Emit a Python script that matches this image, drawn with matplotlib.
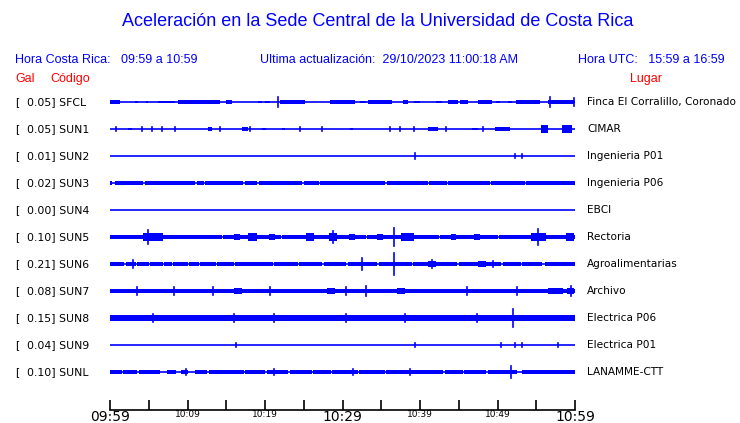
import matplotlib
matplotlib.use("Agg")
import matplotlib.pyplot as plt
from matplotlib.transforms import blended_transform_factory

W, H = 740, 423

# stations, top to bottom
codes = ["SFCL", "SUN1", "SUN2", "SUN3", "SUN4", "SUN5", "SUN6", "SUN7", "SUN8", "SUN9", "SUNL"]
gal = ["0.05", "0.05", "0.01", "0.02", "0.00", "0.10", "0.21", "0.08", "0.15", "0.04", "0.10"]
places = ["Finca El Corralillo, Coronado", "CIMAR", "Ingenieria P01", "Ingenieria P06", "EBCI",
          "Rectoria", "Agroalimentarias", "Archivo", "Electrica P06", "Electrica P01", "LANAMME-CTT"]

# half width of the continuous noise band (fraction of row spacing), 0 = plain line
base = [0, 0, 0, 0.065, 0, 0.09, 0.06, 0.085, 0.10, 0, 0.06]

# quiet stretches where the band drops to the plain line: (start min, end min)
gaps = [
    [], [], [],
    [(0.3, 0.7), (4.3, 4.5), (11.0, 11.2), (12.1, 12.2), (17.2, 17.4), (19.0, 19.2), (24.8, 25.0),
     (27.0, 27.1), (35.5, 35.7), (38.0, 38.1), (41.0, 41.2), (43.5, 43.6), (49.0, 49.1), (53.5, 53.7)],
    [],
    [(2.0, 2.1), (9.5, 9.6), (14.5, 14.6), (22.0, 22.15), (33.0, 33.1), (42.5, 42.6), (50.0, 50.15)],
    [(1.8, 2.1), (3.3, 3.45), (5.0, 5.2), (6.8, 6.95), (8.0, 8.1), (10.0, 10.15), (11.5, 11.65),
     (13.7, 13.85), (16.0, 16.15), (21.0, 21.2), (24.2, 24.35), (27.4, 27.55), (30.5, 30.65), (34.5, 34.65),
     (39.0, 39.15), (42.0, 42.1), (44.8, 45.0), (47.7, 47.85), (50.5, 50.65), (53.0, 53.15), (55.8, 56.1)],
    [], [], [],
    [(1.5, 1.7), (3.5, 3.7), (5.5, 5.6), (6.5, 7.4), (8.5, 9.2), (10.0, 11.0), (12.5, 12.8),
     (14.8, 14.9), (17.3, 17.4), (20.0, 20.2), (23.0, 23.2), (26.0, 26.2), (28.5, 28.7), (32.0, 32.1),
     (35.5, 35.6), (38.0, 38.1), (43.0, 43.2), (45.5, 45.7), (48.5, 48.8), (52.5, 53.2)],
]

# bursts: (start min, end min, half amplitude)
bursts = [
    [(0, 1.3, 0.08), (3.2, 3.6, 0.05), (4.6, 4.9, 0.05), (6.2, 8.4, 0.05), (8.8, 14.2, 0.07),
     (15.0, 15.7, 0.06), (19.1, 19.6, 0.05), (20.0, 20.6, 0.05), (21.9, 25.2, 0.07), (28.4, 31.6, 0.07),
     (32.3, 33.0, 0.05), (33.3, 36.4, 0.06), (37.8, 38.5, 0.06), (39.2, 40.0, 0.05), (42.0, 42.8, 0.05),
     (43.6, 44.9, 0.07), (45.2, 46.2, 0.06), (47.5, 49.3, 0.06), (49.8, 50.3, 0.05), (51.4, 51.9, 0.05),
     (52.4, 55.5, 0.06), (56.5, 59.9, 0.07)],
    [(2.3, 2.8, 0.05), (12.6, 13.2, 0.06), (17.0, 17.8, 0.06), (19.6, 20.1, 0.05), (22.2, 22.6, 0.05),
     (31.0, 31.4, 0.05), (41.0, 42.3, 0.06), (46.7, 47.5, 0.05), (49.7, 51.6, 0.06),
     (55.6, 56.5, 0.14), (58.3, 59.6, 0.15)],
    [],
    [],
    [],
    [(4.3, 6.8, 0.16), (16.0, 16.8, 0.12), (17.8, 19.0, 0.13), (20.5, 21.3, 0.12), (25.3, 26.3, 0.13),
     (28.3, 29.3, 0.15), (30.8, 31.6, 0.12), (34.4, 35.2, 0.12), (37.5, 39.2, 0.16), (44.0, 44.6, 0.12),
     (47.0, 47.8, 0.12), (54.3, 56.3, 0.16), (58.8, 59.9, 0.15)],
    [(2.6, 3.4, 0.09), (3.6, 4.2, 0.09), (16.8, 17.6, 0.09), (20.2, 21.0, 0.09), (41.0, 42.0, 0.1),
     (47.5, 48.5, 0.1)],
    [(16.0, 17.0, 0.11), (28.0, 29.0, 0.11), (37.0, 38.0, 0.11), (56.5, 58.5, 0.12), (59.0, 59.9, 0.12)],
    [],
    [],
    [(5.0, 6.0, 0.075), (18.0, 19.0, 0.075), (30.0, 31.0, 0.075), (39.0, 40.0, 0.075), (50.5, 52.0, 0.08)],
]

# spikes: (minute, half amplitude)
spikes = [
    [(21.7, 0.2), (56.8, 0.2), (59.9, 0.15)],
    [(0.8, 0.08), (4.1, 0.08), (5.4, 0.08), (6.7, 0.08), (8.4, 0.08), (14.2, 0.08), (18.1, 0.08),
     (24.5, 0.08), (27.3, 0.08), (36.1, 0.08), (37.4, 0.08), (39.2, 0.08), (43.4, 0.08), (48.1, 0.08)],
    [(39.3, 0.1), (52.3, 0.08), (53.2, 0.08)],
    [],
    [],
    [(4.9, 0.25), (28.8, 0.22), (36.6, 0.32), (55.2, 0.3)],
    [(3.0, 0.14), (32.5, 0.22), (36.6, 0.4), (41.5, 0.14), (49.4, 0.12)],
    [(3.5, 0.13), (8.3, 0.13), (13.3, 0.15), (20.7, 0.14), (30.5, 0.13), (33.0, 0.18), (46.0, 0.14),
     (52.5, 0.15), (59.5, 0.17)],
    [(5.6, 0.16), (16.0, 0.16), (21.2, 0.15), (30.5, 0.15), (38.0, 0.16), (47.4, 0.15), (52.0, 0.35)],
    [(16.3, 0.06), (39.3, 0.07), (50.5, 0.06), (52.3, 0.07), (53.2, 0.09), (57.8, 0.06)],
    [(9.8, 0.1), (21.1, 0.1), (31.4, 0.1), (38.7, 0.12), (51.8, 0.22)],
]

tick_min = list(range(0, 61, 5))
label_min = [0, 10, 20, 30, 40, 50, 60]
label_txt = ["09:59", "10:09", "10:19", "10:29", "10:39", "10:49", "10:59"]
label_big = [True, False, False, True, False, False, True]

blue = "#0000ff"
red = "#ff0000"

fig = plt.figure(figsize=(W / 100, H / 100), dpi=100)
ax = fig.add_axes([110 / W, 1 - 410 / H, 465 / W, 320 / H])
ax.set_xlim(0, 60)
ax.set_ylim((410 - 102) / 27, -12 / 27)

for i in range(len(codes)):
    ax.plot([0, 60], [i, i], color=blue, lw=1.2, solid_capstyle="butt")
    b = base[i]
    if b > 0:
        # band pieces between the quiet gaps
        edges = [0]
        for g0, g1 in gaps[i]:
            edges += [g0, g1]
        edges.append(60)
        for k in range(0, len(edges), 2):
            ax.fill_between([edges[k], edges[k + 1]], i - b, i + b, color=blue, lw=0)
    for t0, t1, h in bursts[i]:
        ax.fill_between([t0, t1], i - h, i + h, color=blue, lw=0)
    for t, h in spikes[i]:
        ax.plot([t, t], [i - h, i + h], color=blue, lw=1.2)

for s in ["top", "left", "right"]:
    ax.spines[s].set_visible(False)
ax.spines["bottom"].set_linewidth(1.2)
ax.set_yticks([])
ax.set_xticks(tick_min, labels=[""] * len(tick_min))
ax.tick_params(axis="x", direction="in", length=7.5, width=1.2, color="black")
trx = blended_transform_factory(ax.transData, fig.transFigure)
for m, txt, big in zip(label_min, label_txt, label_big):
    ax.text(m, 1 - 410 / H, txt, transform=trx, ha="center", va="top",
            fontsize=10 if big else 6.5, family="DejaVu Sans", color="black")

tr = blended_transform_factory(fig.transFigure, ax.transData)
for i in range(len(codes)):
    ax.text(15 / W, i, "[", transform=tr, ha="left", va="center", fontsize=7.8, family="DejaVu Sans")
    ax.text(27 / W, i, gal[i] + "] " + codes[i], transform=tr, ha="left", va="center", fontsize=7.8,
            family="DejaVu Sans")
    ax.text(587 / W, i, places[i], transform=tr, ha="left", va="center", fontsize=7.6,
            family="DejaVu Sans")

sans = "Liberation Sans"
fig.text(378 / W, 1 - 22 / H, "Aceleración en la Sede Central de la Universidad de Costa Rica",
         ha="center", va="center", fontsize=13, color=blue, family=sans)
fig.text(15 / W, 1 - 60 / H, "Hora Costa Rica:   09:59 a 10:59", ha="left", va="center",
         fontsize=9, color=blue, family=sans)
fig.text(260 / W, 1 - 60 / H, "Ultima actualización:  29/10/2023 11:00:18 AM", ha="left", va="center",
         fontsize=9, color=blue, family=sans)
fig.text(725 / W, 1 - 60 / H, "Hora UTC:   15:59 a 16:59", ha="right", va="center",
         fontsize=9, color=blue, family=sans)
fig.text(15 / W, 1 - 79 / H, "Gal", ha="left", va="center", fontsize=9, color=red, family=sans)
fig.text(50 / W, 1 - 79 / H, "Código", ha="left", va="center", fontsize=9, color=red, family=sans)
fig.text(630 / W, 1 - 79 / H, "Lugar", ha="left", va="center", fontsize=9, color=red, family=sans)

fig.savefig("out.png", dpi=100)
